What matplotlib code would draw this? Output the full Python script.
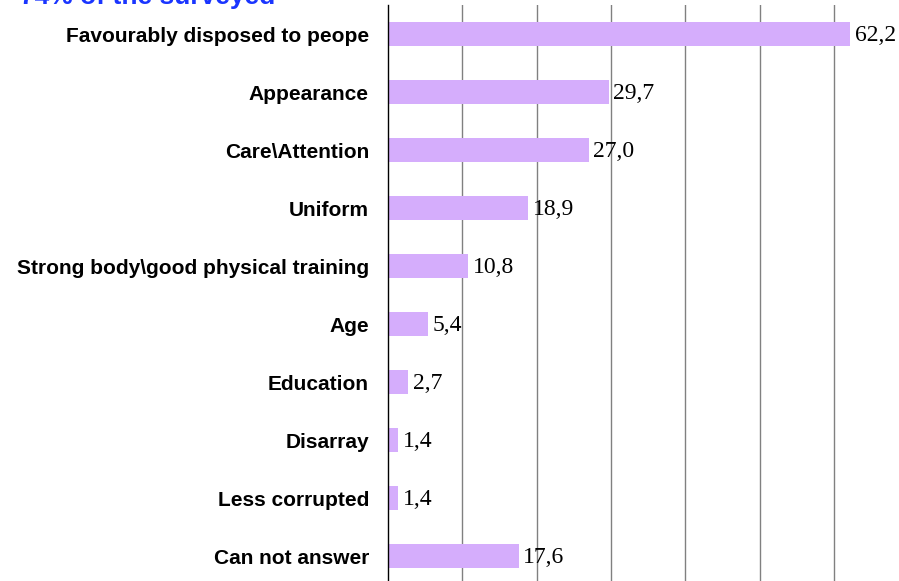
import matplotlib
matplotlib.use("Agg")
from matplotlib import pyplot as plt
import numpy as np

categories = ["Favourably disposed to peope", "Appearance", "Care\\Attention",
              "Uniform", "Strong body\\good physical training", "Age",
              "Education", "Disarray", "Less corrupted", "Can not answer"]
values = [62.2, 29.7, 27.0, 18.9, 10.8, 5.4, 2.7, 1.4, 1.4, 17.6]
labels = ["62,2", "29,7", "27,0", "18,9", "10,8", "5,4", "2,7", "1,4", "1,4", "17,6"]
title = "74% of the surveyed"

fig = plt.figure(figsize=(8.99, 5.81), dpi=100)
ax = fig.add_axes([388 / 899, -4 / 581, 1 - 388 / 899, 580 / 581])

y = np.arange(len(categories))
ax.barh(y, values, height=0.41, color="#d5adfc", zorder=2)
ax.set_ylim(len(categories) - 0.5, -0.5)
ax.set_xlim(0, (899 - 388) / 7.43)

ax.set_xticks([10, 20, 30, 40, 50, 60])
ax.xaxis.grid(True, color="#808080", linewidth=1.0, zorder=0)
ax.set_axisbelow(True)
ax.tick_params(axis="x", length=0, labelbottom=False)
ax.tick_params(axis="y", length=0, pad=13.7)
ax.set_yticks(y)
ax.set_yticklabels(categories, fontfamily="Liberation Sans", fontweight="bold", fontsize=15)

for s in ["top", "right", "bottom"]:
    ax.spines[s].set_visible(False)
ax.spines["left"].set_color("black")
ax.spines["left"].set_linewidth(1.0)

for yi, v, t in zip(y, values, labels):
    ax.text(v + 0.6, yi + 0.03, t, va="center", ha="left", fontfamily="Liberation Serif", fontsize=17)

fig.text(20 / 899, 1 - 4 / 581, title, color="#1a35ff", fontfamily="Liberation Sans",
         fontweight="bold", fontsize=19, va="baseline", ha="left")

fig.savefig("out.png", dpi=100)
